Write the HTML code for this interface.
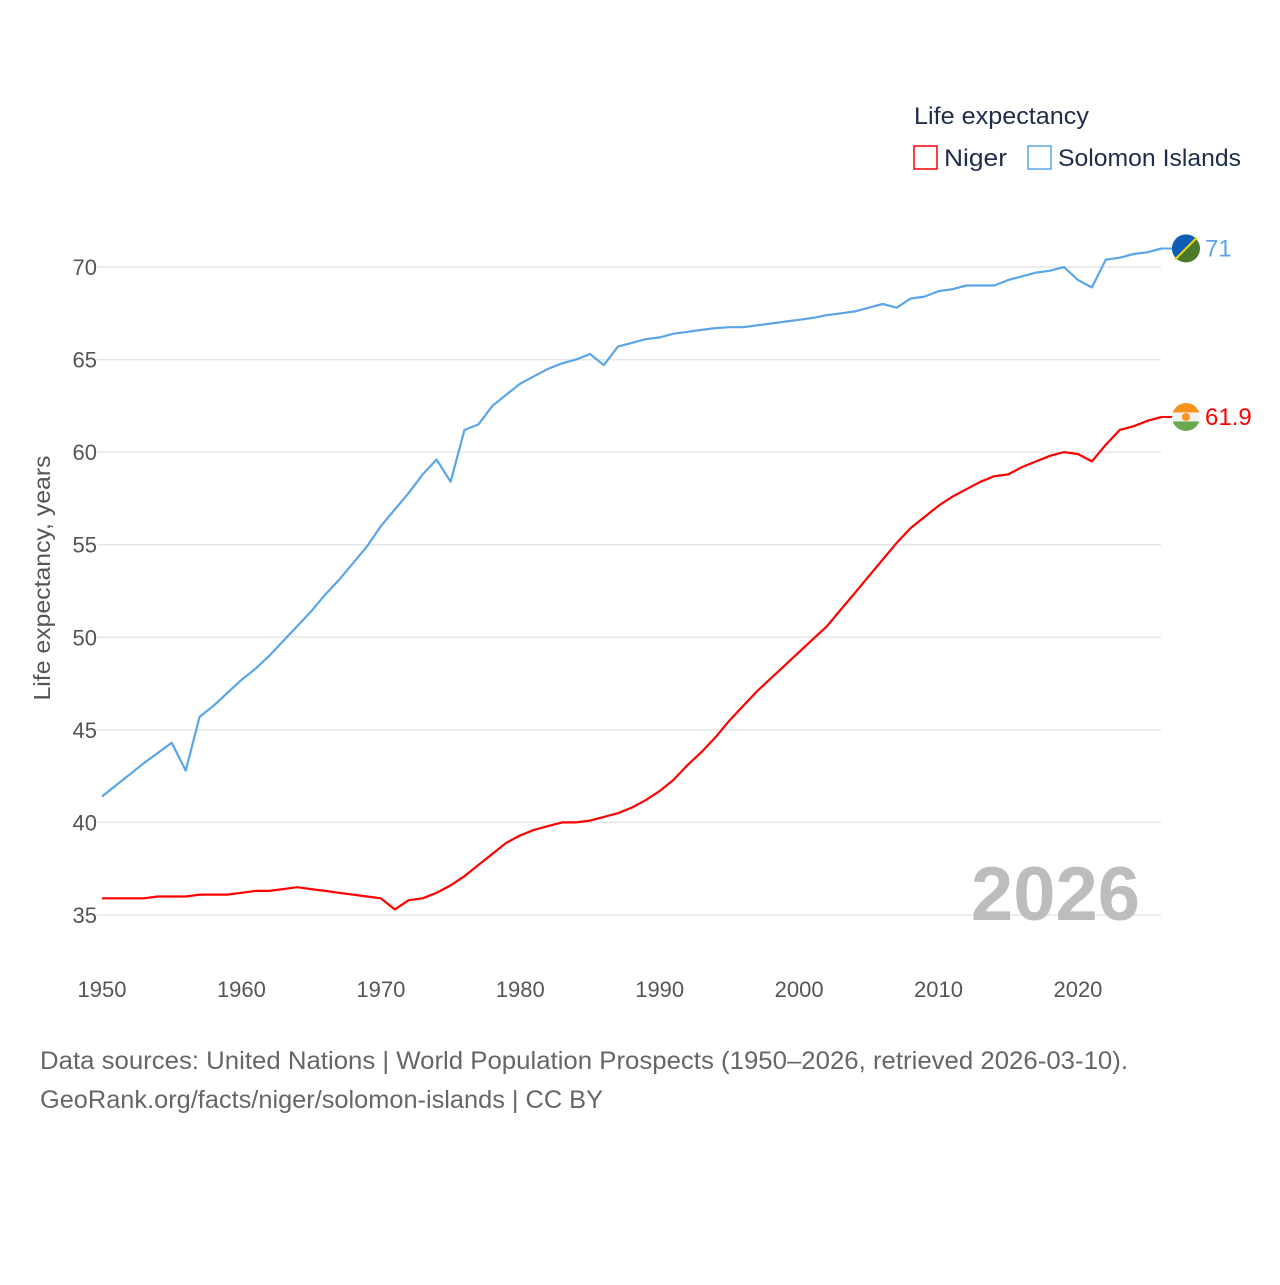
<!DOCTYPE html>
<html><head><meta charset="utf-8"><style>
body{margin:0;background:#fff;font-family:"Liberation Sans",sans-serif;}
svg text{font-family:"Liberation Sans",sans-serif;}
</style></head><body>
<svg width="1280" height="1280" viewBox="0 0 1280 1280">
<g id="grid"></g>
<g id="yticks"></g>
<g id="xticks"></g>
<text transform="translate(50,578) rotate(-90)" text-anchor="middle" font-size="23" textLength="245" lengthAdjust="spacingAndGlyphs" fill="#555">Life expectancy, years</text>
<text x="1140" y="920" text-anchor="end" font-size="76" font-weight="bold" fill="#bdbdbd">2026</text>
<g id="lines"></g>
<g>
<text x="914" y="124" font-size="24" textLength="175" lengthAdjust="spacingAndGlyphs" fill="#1d2d4a">Life expectancy</text>
<g><rect x="914" y="146" width="23" height="23" fill="none" stroke="#ff0000" stroke-width="1.5"/><text x="944" y="166" font-size="24" textLength="63" lengthAdjust="spacingAndGlyphs" fill="#1d2d4a">Niger</text></g>
<g><rect x="1028" y="146" width="23" height="23" fill="none" stroke="#5aa5e8" stroke-width="1.5"/><text x="1058" y="166" font-size="24" textLength="183" lengthAdjust="spacingAndGlyphs" fill="#1d2d4a">Solomon Islands</text></g>
</g>
<g id="ends"></g>
<text x="40" y="1069" font-size="25" textLength="1088" lengthAdjust="spacingAndGlyphs" fill="#666">Data sources: United Nations | World Population Prospects (1950–2026, retrieved 2026-03-10).</text>
<text x="40" y="1108" font-size="25" textLength="563" lengthAdjust="spacingAndGlyphs" fill="#666">GeoRank.org/facts/niger/solomon-islands | CC BY</text>
</svg>
<script>
const years=[];for(let y=1950;y<=2026;y++)years.push(y);
const solomon=[41.4,42.0,42.6,43.2,43.75,44.3,42.8,45.7,46.3,47.0,47.7,48.3,49.0,49.8,50.6,51.4,52.3,53.1,54.0,54.9,56.0,56.9,57.8,58.8,59.6,58.4,61.2,61.5,62.5,63.1,63.7,64.1,64.5,64.8,65.0,65.3,64.7,65.7,65.9,66.1,66.2,66.4,66.5,66.6,66.7,66.75,66.75,66.85,66.95,67.05,67.15,67.25,67.4,67.5,67.6,67.8,68.0,67.8,68.3,68.4,68.7,68.8,69.0,69.0,69.0,69.3,69.5,69.7,69.8,70.0,69.3,68.9,70.4,70.5,70.7,70.8,71.0];
const niger=[35.9,35.9,35.9,35.9,36.0,36.0,36.0,36.1,36.1,36.1,36.2,36.3,36.3,36.4,36.5,36.4,36.3,36.2,36.1,36.0,35.9,35.3,35.8,35.9,36.2,36.6,37.1,37.7,38.3,38.9,39.3,39.6,39.8,40.0,40.0,40.1,40.3,40.5,40.8,41.2,41.7,42.3,43.1,43.8,44.6,45.5,46.3,47.1,47.8,48.5,49.2,49.9,50.6,51.5,52.4,53.3,54.2,55.1,55.9,56.5,57.1,57.6,58.0,58.4,58.7,58.8,59.2,59.5,59.8,60.0,59.9,59.5,60.4,61.2,61.4,61.7,61.9];
const yTicks=[35,40,45,50,55,60,65,70];
const xTicks=[1950,1960,1970,1980,1990,2000,2010,2020];
const NS="http://www.w3.org/2000/svg";
const xs=y=>102+(y-1950)*(1161.6-102)/76;
const ys=v=>267+(70-v)*(915-267)/35;
function mk(tag,attrs,parent,txt){const e=document.createElementNS(NS,tag);for(const k in attrs)e.setAttribute(k,attrs[k]);if(txt!==undefined)e.textContent=txt;parent.appendChild(e);return e;}
const g=document.getElementById('grid'),yt=document.getElementById('yticks'),xt=document.getElementById('xticks');
yTicks.forEach(t=>{
 const l=mk('line',{x1:97,x2:1161,y1:ys(t),y2:ys(t),stroke:'#e6e6e6','stroke-width':1.5},g);
 
 
 const tx=mk('text',{x:97,y:ys(t)+8,'text-anchor':'end','font-size':22,fill:'#555'},yt,String(t));
 
 
});
xTicks.forEach(t=>{
 const tx=mk('text',{x:xs(t),y:997,'text-anchor':'middle','font-size':22,fill:'#555'},xt,String(t));
 
 
});
const lg=document.getElementById('lines');
function line(data,color,name){
 const d=data.map((v,i)=>(i?'L':'M')+xs(years[i]).toFixed(1)+','+ys(v).toFixed(1)).join('');
 const p=mk('path',{d:d,fill:'none',stroke:color,'stroke-width':2.2,'stroke-linejoin':'round'},lg);
 
 
}
line(solomon,'#5aa5e8','line-solomon-islands');
line(niger,'#ff0000','line-niger');
const en=document.getElementById('ends');
function endLabel(data,color,name,flag){
 const v=data[data.length-1],cx=1186,cy=ys(v);
 const gg=mk('g',{},en);
 
 
 mk('line',{x1:xs(2026),x2:cx-14,y1:cy,y2:cy,stroke:color,'stroke-width':2},gg);
 flag(gg,cx,cy);
 mk('text',{x:1205,y:cy+8,'font-size':24,fill:color},gg,String(v));
}
endLabel(solomon,'#5aa5e8','end-label-solomon-islands',(gg,cx,cy)=>{
 mk('clipPath',{id:'c1'},gg).appendChild(document.createElementNS(NS,'circle')).setAttribute('r',14);
 const c=gg.querySelector('#c1 circle');c.setAttribute('cx',cx);c.setAttribute('cy',cy);
 mk('circle',{cx:cx,cy:cy,r:14,fill:'#4a7a2a'},gg);
 mk('path',{d:`M${cx-14},${cy-14}L${cx+14},${cy-14}L${cx-14},${cy+14}Z`,fill:'#0d5eb4','clip-path':'url(#c1)'},gg);
 mk('line',{x1:cx+11,y1:cy-11,x2:cx-11,y2:cy+11,stroke:'#f5d800','stroke-width':2},gg);
});
endLabel(niger,'#ff0000','end-label-niger',(gg,cx,cy)=>{
 mk('clipPath',{id:'c2'},gg);
 const cc=mk('circle',{cx:cx,cy:cy,r:14},gg.querySelector('#c2'));
 mk('rect',{x:cx-14,y:cy-14,width:28,height:10,fill:'#f7941d','clip-path':'url(#c2)'},gg);
 mk('rect',{x:cx-14,y:cy-4.5,width:28,height:9,fill:'#f2f2f2','clip-path':'url(#c2)'},gg);
 mk('rect',{x:cx-14,y:cy+4.5,width:28,height:10,fill:'#6aa84f','clip-path':'url(#c2)'},gg);
 mk('circle',{cx:cx,cy:cy,r:4,fill:'#f7941d'},gg);
});
</script>
</body></html>
